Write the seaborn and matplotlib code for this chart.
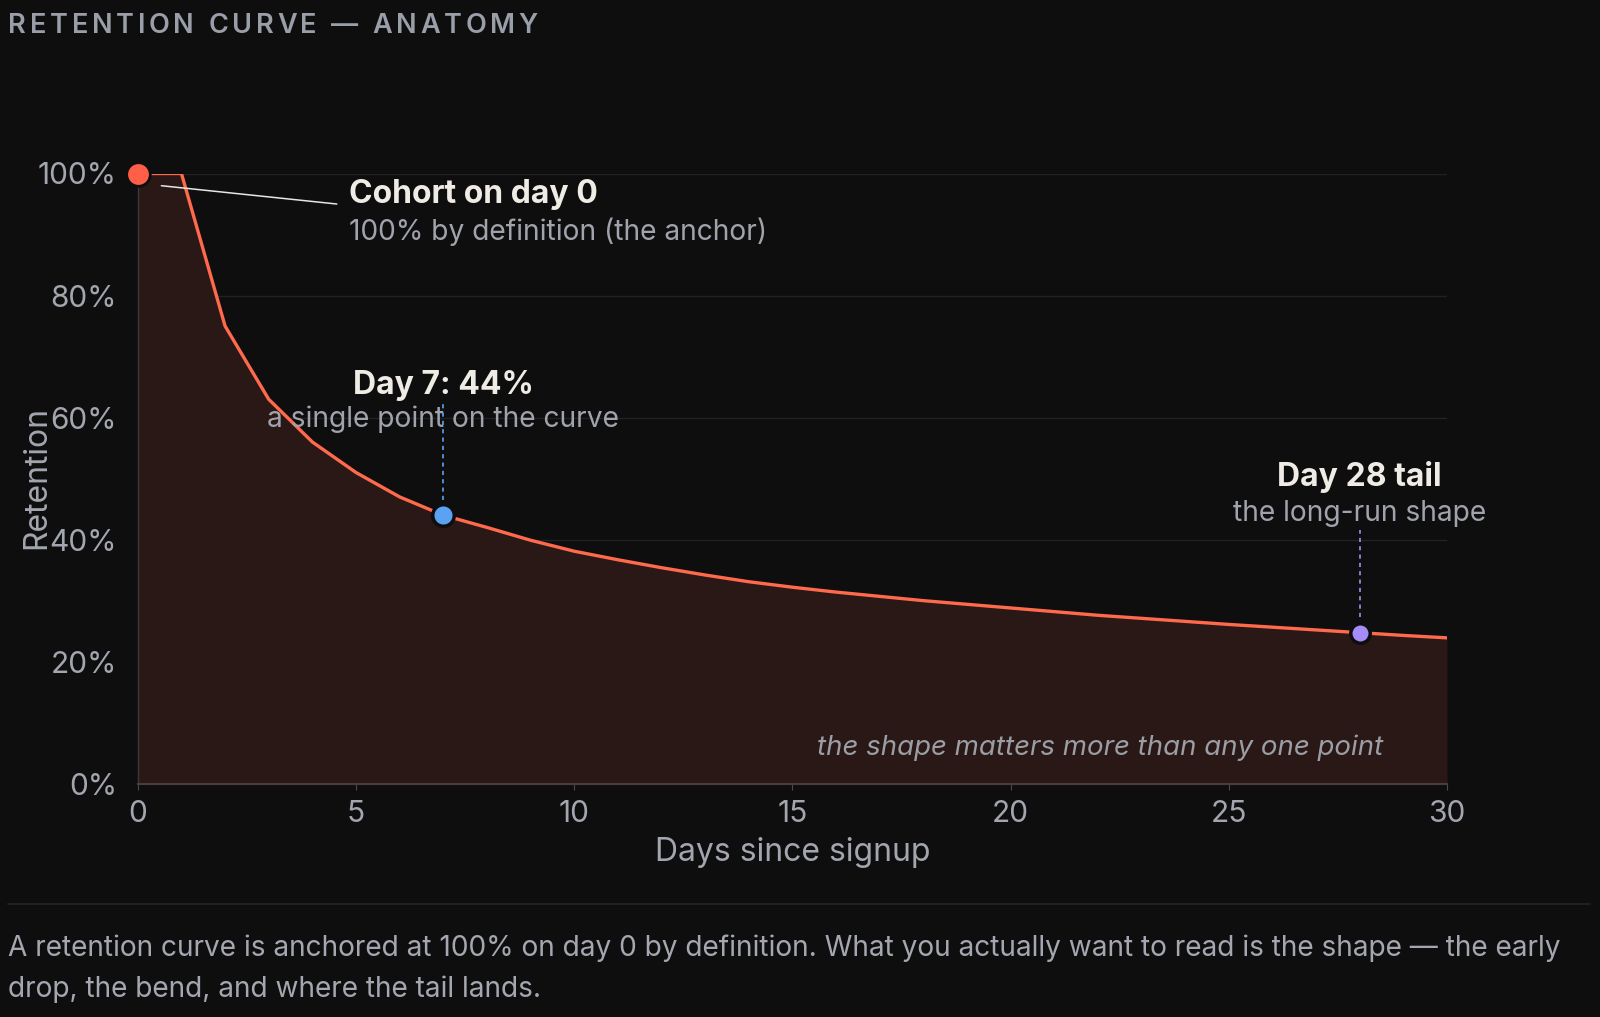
import numpy as np
import pandas as pd
import matplotlib
matplotlib.use("Agg")
import matplotlib.pyplot as plt
import seaborn as sns

# ---------------- data ----------------
days = list(range(31))
retention = [1.00, 1.00, 0.75, 0.63, 0.56, 0.51, 0.47, 0.44, 0.42, 0.399,
             0.381, 0.367, 0.354, 0.342, 0.331, 0.322, 0.314, 0.307, 0.300, 0.294,
             0.288, 0.282, 0.276, 0.271, 0.266, 0.261, 0.2565, 0.252, 0.2475, 0.243,
             0.239]
x_ticks = [0, 5, 10, 15, 20, 25, 30]
y_ticks = [0.0, 0.2, 0.4, 0.6, 0.8, 1.0]
y_tick_labels = ["0%", "20%", "40%", "60%", "80%", "100%"]
title_text = "RETENTION CURVE — ANATOMY"
x_label = "Days since signup"
y_label = "Retention"
anno_day0_title = "Cohort on day 0"
anno_day0_sub = "100% by definition (the anchor)"
anno_day7_title = "Day 7: 44%"
anno_day7_sub = "a single point on the curve"
anno_day28_title = "Day 28 tail"
anno_day28_sub = "the long-run shape"
note_text = "the shape matters more than any one point"
caption_lines = [
    "A retention curve is anchored at 100% on day 0 by definition. What you actually want to read is the shape — the early",
    "drop, the bend, and where the tail lands.",
]

# ---------------- style ----------------
BG = "#0e0e0f"
LINE = "#ff6a4d"
FILL = "#291815"
GRID = "#222224"
TICK = "#a3a6ae"
WHITE = "#efebe5"
SUB = "#a0a3ab"
BLUE = "#5ba2f3"
PURPLE = "#a58cf8"

sns.set_theme(style="dark")
plt.rcParams["font.family"] = ["Inter", "DejaVu Sans"]
plt.rcParams["figure.facecolor"] = BG
plt.rcParams["axes.facecolor"] = BG

W, H = 1600, 1017
fig = plt.figure(figsize=(W / 100, H / 100), dpi=100)

ax_l, ax_r = 137.8, 1447.0
ax_t, ax_b = 173.5, 783.7
ax = fig.add_axes([ax_l / W, 1 - ax_b / H, (ax_r - ax_l) / W, (ax_b - ax_t) / H])
ax.set_facecolor(BG)

df = pd.DataFrame({"day": days, "retention": retention})

ax.fill_between(df["day"], df["retention"], 0, color=FILL, zorder=1, linewidth=0)
sns.lineplot(data=df, x="day", y="retention", ax=ax, color=LINE, linewidth=2.4,
             zorder=3, legend=False)

ax.set_xlim(0, 30)
ax.set_ylim(0, 1.0)
ax.set_xticks(x_ticks)
ax.set_xticklabels([str(t) for t in x_ticks])
ax.set_yticks(y_ticks)
ax.set_yticklabels(y_tick_labels)

ax.grid(axis="y", color=GRID, linewidth=1.0, zorder=0)
ax.grid(axis="x", visible=False)
for s in ["top", "right"]:
    ax.spines[s].set_visible(False)
ax.spines["left"].set_color("#3b3a3c")
ax.spines["left"].set_linewidth(1.0)
ax.spines["bottom"].set_color("#4a3d3b")
ax.spines["bottom"].set_linewidth(1.5)
ax.spines["left"].set_zorder(2)

ax.tick_params(axis="y", length=0, pad=15, labelsize=21.5, labelcolor=TICK)
ax.tick_params(axis="x", length=4, width=0.8, color="#4a4a4c", pad=8,
               labelsize=21.5, labelcolor=TICK, bottom=True)

ax.set_xlabel(x_label, fontsize=23, color=TICK)
ax.set_ylabel(y_label, fontsize=23, color=TICK)
ax.xaxis.set_label_coords(0.5, -0.113)
ax.xaxis.label.set_va("center")
ax.yaxis.set_label_coords(-0.0772, 0.501)
ax.yaxis.label.set_va("center")

# ---------------- markers ----------------
r0 = df.loc[df["day"] == 0, "retention"].iloc[0]
r7 = df.loc[df["day"] == 7, "retention"].iloc[0]
r28 = df.loc[df["day"] == 28, "retention"].iloc[0]

ax.plot([0], [r0], "o", ms=17, color="#ff5f47", mec=BG, mew=2, zorder=6, clip_on=False)
ax.plot([7], [r7], "o", ms=15.5, color=BLUE, mec=BG, mew=2.5, zorder=6, clip_on=False)
ax.plot([28], [r28], "o", ms=14, color=PURPLE, mec=BG, mew=2.5, zorder=6, clip_on=False)

# connector for day 0
ax.plot([0.54, 4.56], [0.98, 0.95], color="#e6e6e6", linewidth=1.1, zorder=5)

# dashed leaders
ax.plot([7, 7], [0.465, 0.624], color=BLUE, linewidth=1.2, linestyle=(0, (2.5, 2.5)), zorder=5)
ax.plot([28, 28], [0.273, 0.415], color=PURPLE, linewidth=1.2, linestyle=(0, (2.5, 2.5)), zorder=5)

# ---------------- annotations ----------------
ax.text(4.84, 0.966, anno_day0_title, fontsize=23, fontweight="bold", color=WHITE,
        ha="left", va="center", zorder=7)
ax.text(4.84, 0.905, anno_day0_sub, fontsize=20.3, color=SUB,
        ha="left", va="center", zorder=7)

ax.text(7, 0.653, anno_day7_title, fontsize=23, fontweight="bold", color=WHITE,
        ha="center", va="center", zorder=7)
ax.text(7, 0.597, anno_day7_sub, fontsize=20.3, color=SUB,
        ha="center", va="center", zorder=4)

ax.text(28, 0.502, anno_day28_title, fontsize=23, fontweight="bold", color=WHITE,
        ha="center", va="center", zorder=7)
ax.text(28, 0.442, anno_day28_sub, fontsize=20.3, color=SUB,
        ha="center", va="center", zorder=4)

ax.text(28.53, 0.059, note_text, fontsize=19.9, style="italic", color="#9c9ea6",
        ha="right", va="center", zorder=7)

# ---------------- title (letter-spaced) ----------------
renderer = fig.canvas.get_renderer()
title_size = 19.5
spacing_px = 3.7
x0_px, y_title_px = 8.5, 26.0
probe = fig.text(0, 0, "", fontsize=title_size, fontweight="semibold")
for i, ch in enumerate(title_text):
    probe.set_text(title_text[:i] if i > 0 else "")
    w = probe.get_window_extent(renderer).width if i > 0 else 0.0
    fig.text((x0_px + w + i * spacing_px) / W, 1 - y_title_px / H, ch,
             fontsize=title_size, fontweight="semibold", color="#9a9ea8",
             ha="left", va="center")
probe.remove()

# ---------------- caption ----------------
fig.add_artist(plt.Line2D([8 / W, 1590 / W], [1 - 904 / H, 1 - 904 / H],
                          color="#262628", linewidth=1.2, transform=fig.transFigure))
cap_y = [948, 989]
for line, yp in zip(caption_lines, cap_y):
    fig.text(8.2 / W, 1 - yp / H, line, fontsize=20.2, color="#a4a7af",
             ha="left", va="center")

fig.savefig("out.png", dpi=100, facecolor=BG)
